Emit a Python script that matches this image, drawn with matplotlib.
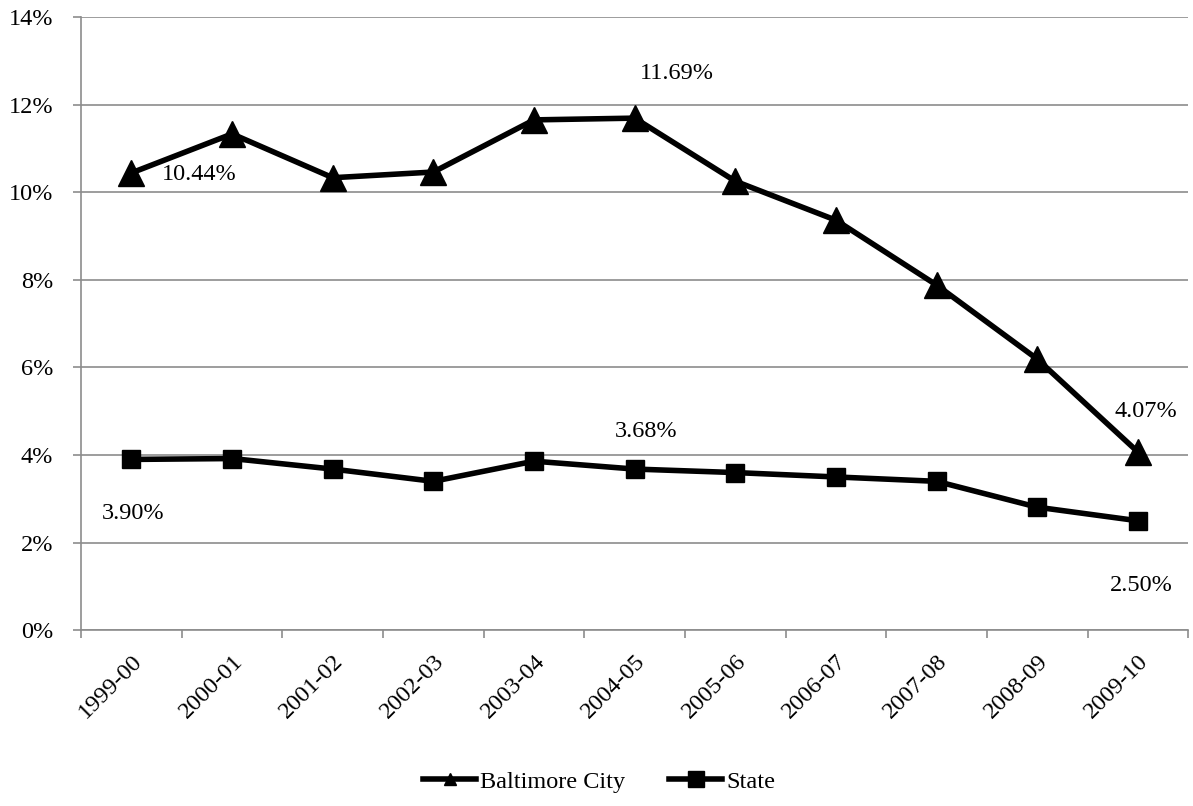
import matplotlib.pyplot as plt
from matplotlib.lines import Line2D
import numpy as np

plt.rcParams['font.family'] = ['Liberation Serif', 'DejaVu Serif']

years = ["1999-00", "2000-01", "2001-02", "2002-03", "2003-04", "2004-05",
         "2005-06", "2006-07", "2007-08", "2008-09", "2009-10"]
baltimore = [10.44, 11.33, 10.33, 10.46, 11.65, 11.69, 10.25, 9.36, 7.88, 6.19, 4.07]
state = [3.90, 3.92, 3.68, 3.40, 3.86, 3.68, 3.60, 3.50, 3.40, 2.81, 2.50]

FS = 17.5
GREY = '#8c8c8c'

fig = plt.figure(figsize=(11.93, 8.06), dpi=100)
ax = fig.add_axes([0.068, 0.218, 0.928, 0.761])

x = np.arange(len(years))
ax.plot(x, baltimore, color='black', lw=4, marker='^', markersize=18.5)
ax.plot(x, state, color='black', lw=4, marker='s', markersize=13.5)

ax.set_xlim(-0.5, len(years) - 0.5)
ax.set_ylim(0, 14)
ax.set_yticks(range(0, 15, 2))
ax.set_yticklabels([f"{v}%" for v in range(0, 15, 2)], fontsize=FS)
ax.yaxis.grid(True, color=GREY, lw=1.2)
ax.set_axisbelow(True)

# category labels, tick marks between categories
ax.set_xticks(x)
ax.set_xticklabels(years, rotation=45, ha='right', rotation_mode='anchor', fontsize=FS)
ax.tick_params(axis='x', length=0, pad=15)
ax.set_xticks(np.arange(-0.5, len(years)), minor=True)
ax.tick_params(axis='x', which='minor', length=6, color=GREY, width=1.2)
ax.tick_params(axis='y', length=6, color=GREY, width=1.2, pad=14)

for s in ['top', 'right']:
    ax.spines[s].set_visible(False)
for s in ['left', 'bottom']:
    ax.spines[s].set_color(GREY)
    ax.spines[s].set_linewidth(1.2)

# data labels
def lab(i, vals, dx, dy):
    ax.annotate(f"{vals[i]:.2f}%", (x[i], vals[i]), xytext=(dx, dy),
                textcoords='offset pixels', ha='center', va='center', fontsize=FS)

lab(0, baltimore, 68, -2)
lab(5, baltimore, 42, 45)
lab(10, baltimore, 8, 40)
lab(0, state, 2, -54)
lab(5, state, 11, 38)
lab(10, state, 3, -65)

handles = [Line2D([], [], color='black', lw=4, marker='^', markersize=9),
           Line2D([], [], color='black', lw=4, marker='s', markersize=11)]
fig.legend(handles, ['Baltimore City', 'State'], loc='center',
           bbox_to_anchor=(0.502, 0.03), ncol=2, frameon=False,
           fontsize=FS, handlelength=2.2, columnspacing=1.8, handletextpad=0.15)

fig.savefig('out.png', dpi=100)
